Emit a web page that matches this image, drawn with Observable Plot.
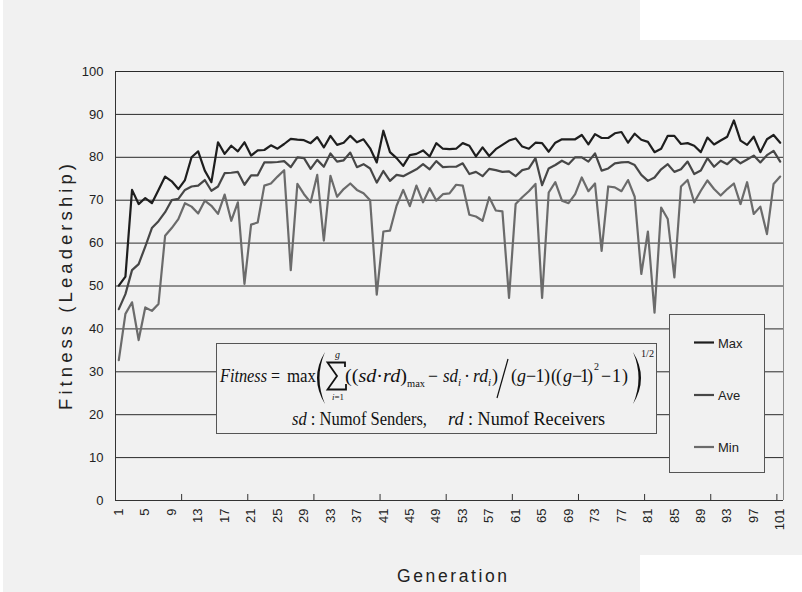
<!DOCTYPE html>
<html>
<head>
<meta charset="utf-8">
<script src="https://cdn.jsdelivr.net/npm/d3@7"></script>
<script src="https://cdn.jsdelivr.net/npm/@observablehq/plot@0.6"></script>
<style>
  html, body { margin: 0; padding: 0; background: #ffffff; }
  #wrap { position: relative; width: 802px; height: 592px; overflow: hidden; }
  #wrap > svg { position: absolute; left: 0; top: 0; }
</style>
</head>
<body>
<div id="wrap"></div>
<script>
// ---------------- data ----------------
const generations = d3.range(1, 102);
const seriesNames = ["Max", "Ave", "Min"];
const seriesColors = ["#1e1e1e", "#474747", "#6b6b6b"];

const maxValues = [
  50.1, 52.2, 72.4, 69.1, 70.5, 69.3, 72.4, 75.5, 74.4, 72.6,
  74.7, 80.0, 81.4, 76.9, 74.2, 83.5, 80.8, 82.7, 81.4, 83.5,
  80.4, 81.6, 81.7, 82.8, 82.0, 83.1, 84.3, 84.1, 84.0, 83.3,
  84.7, 82.3, 85.0, 82.9, 83.4, 85.0, 83.5, 84.2, 82.1, 78.8,
  86.2, 81.2, 79.8, 78.0, 80.5, 80.8, 81.6, 80.2, 83.3, 82.0,
  81.9, 82.0, 83.3, 82.7, 80.2, 82.3, 80.3, 81.9, 82.9, 83.9,
  84.4, 82.5, 82.0, 83.4, 83.3, 81.3, 83.4, 84.2, 84.2, 84.2,
  85.2, 83.0, 85.4, 84.5, 84.5, 85.6, 85.9, 83.4, 85.5, 84.1,
  83.6, 81.2, 82.0, 85.0, 85.0, 83.1, 83.3, 82.7, 81.2, 84.6,
  83.0, 83.9, 84.8, 88.6, 83.9, 82.9, 84.8, 81.2, 84.2, 85.2,
  83.4
];
const aveValues = [
  44.6, 48.1, 53.7, 55.1, 59.2, 63.5, 65.1, 67.2, 70.0, 70.3,
  72.4, 73.2, 73.4, 74.7, 72.2, 73.2, 76.3, 76.4, 76.6, 73.6,
  75.8, 75.8, 78.8, 78.8, 78.9, 79.1, 77.7, 80.0, 79.8, 77.3,
  79.4, 77.8, 80.9, 79.0, 79.3, 81.1, 77.7, 78.4, 77.4, 74.1,
  76.8, 74.5, 75.9, 75.6, 76.4, 77.2, 78.4, 77.2, 79.1, 77.7,
  77.8, 77.8, 78.6, 76.1, 76.6, 75.6, 77.3, 77.0, 76.6, 76.7,
  75.6, 77.0, 77.4, 79.8, 73.5, 77.4, 78.2, 79.2, 78.4, 80.0,
  80.0, 79.0, 80.9, 76.9, 77.4, 78.6, 78.8, 78.9, 78.2, 75.9,
  74.5, 75.3, 77.2, 78.4, 76.6, 77.2, 79.0, 76.1, 76.9, 79.8,
  77.8, 79.2, 78.4, 79.8, 78.6, 79.5, 80.4, 78.8, 80.5, 81.5,
  79.0
];
const minValues = [
  32.7, 43.5, 46.2, 37.4, 45.0, 44.2, 45.8, 61.7, 63.5, 65.6,
  69.3, 68.5, 66.9, 69.9, 68.7, 66.8, 71.3, 65.2, 69.5, 50.5,
  64.3, 64.8, 73.4, 73.9, 75.5, 77.0, 53.7, 73.8, 71.4, 69.5,
  75.9, 60.6, 75.7, 70.8, 72.6, 73.9, 72.4, 71.6, 70.0, 48.0,
  62.7, 62.9, 68.7, 72.4, 68.6, 73.4, 69.5, 72.8, 69.9, 71.4,
  71.6, 73.6, 73.4, 66.6, 66.2, 65.2, 70.7, 67.6, 67.4, 47.2,
  69.1, 70.7, 72.1, 73.8, 47.2, 71.8, 74.2, 69.9, 69.3, 71.4,
  75.3, 72.1, 73.9, 58.2, 73.2, 73.0, 72.1, 74.7, 70.8, 52.8,
  62.7, 43.8, 68.3, 65.6, 52.0, 73.2, 74.7, 69.5, 72.2, 74.6,
  72.6, 71.1, 72.6, 73.9, 69.1, 74.2, 66.8, 68.5, 62.1, 73.8,
  75.5
];

const yTicks = [0, 10, 20, 30, 40, 50, 60, 70, 80, 90, 100];
const xTickLabels = d3.range(1, 102, 4);          // 1, 5, 9, ... 101
const xTickMarkEvery = 10;                          // tick marks between categories

const yTitle = "Fitness (Leadership)";
const xTitle = "Generation";

// ---------------- table ----------------
const valuesBySeries = {Max: maxValues, Ave: aveValues, Min: minValues};
const table = [];
for (const s of ["Min", "Ave", "Max"]) {
  valuesBySeries[s].forEach((v, i) => table.push({series: s, gen: generations[i], value: v}));
}
const tickMarkPositions = d3.range(xTickMarkEvery, generations.length, xTickMarkEvery).map(g => g + 0.5);

const FONT = "'Liberation Sans', Arial, Helvetica, sans-serif";
const BG = "#f1f1f1";

// ---------------- background ----------------
const wrap = document.getElementById("wrap");
const bg = d3.create("svg").attr("width", 802).attr("height", 592);
bg.append("rect").attr("x", 3).attr("y", 0).attr("width", 799).attr("height", 592).attr("fill", BG);
bg.append("rect").attr("x", 640).attr("y", 0).attr("width", 162).attr("height", 40).attr("fill", "#fff");
bg.append("rect").attr("x", 640).attr("y", 555).attr("width", 162).attr("height", 37).attr("fill", "#fff");
wrap.appendChild(bg.node());

// ---------------- chart ----------------
const chart = Plot.plot({
  width: 802,
  height: 592,
  marginLeft: 115,
  marginRight: 19,
  marginTop: 71,
  marginBottom: 92,
  style: {background: "transparent", fontFamily: FONT, fontSize: "13px", color: "#222"},
  x: {domain: [0.5, generations.length + 0.5]},
  y: {domain: [0, 100]},
  color: {domain: seriesNames, range: seriesColors},
  marks: [
    Plot.ruleY(yTicks.filter(d => d > 0), {stroke: "#2a2a2a", strokeWidth: 1}),
    Plot.ruleX([generations.length + 0.5], {stroke: "#8a8a8a", strokeWidth: 1}),
    Plot.ruleX([0.5], {stroke: "#333", strokeWidth: 1}),
    Plot.ruleY([0], {stroke: "#333", strokeWidth: 1}),
    Plot.ruleX(tickMarkPositions, {y1: 0, y2: 1.4, stroke: "#333", strokeWidth: 1}),
    Plot.line(table, {x: "gen", y: "value", z: "series", stroke: "series", strokeWidth: 2.2}),
    Plot.axisY({ticks: yTicks, tickSize: 0, tickPadding: 12, label: null, fontSize: 13}),
    Plot.axisX({ticks: xTickLabels, tickRotate: -90, tickSize: 0, tickPadding: 8, label: null, fontSize: 13, tickFormat: d => String(d)})
  ]
});
wrap.appendChild(chart);

// ---------------- overlay: titles, formula, legend ----------------
const ov = d3.create("svg").attr("width", 802).attr("height", 592);

ov.append("text")
  .attr("transform", "translate(72,287) rotate(-90)")
  .attr("text-anchor", "middle")
  .attr("font-family", FONT).attr("font-size", 18.5).attr("fill", "#222")
  .attr("textLength", 246).attr("lengthAdjust", "spacing")
  .text(yTitle);

ov.append("text")
  .attr("x", 452).attr("y", 582)
  .attr("text-anchor", "middle")
  .attr("font-family", FONT).attr("font-size", 17.5).attr("fill", "#222")
  .attr("textLength", 110).attr("lengthAdjust", "spacing")
  .text(xTitle);

// formula box
const SERIF = "'Liberation Serif', 'Times New Roman', serif";
const f = ov.append("g").attr("font-family", SERIF).attr("fill", "#111");
f.append("rect").attr("x", 216.5).attr("y", 343.5).attr("width", 440).attr("height", 90)
  .attr("fill", BG).attr("stroke", "#555").attr("stroke-width", 1);

function t(x, y, size, content, opts = {}) {
  const el = f.append("text").attr("x", x).attr("y", y).attr("font-size", size);
  if (opts.italic) el.attr("font-style", "italic");
  if (opts.len) el.attr("textLength", opts.len).attr("lengthAdjust", opts.adjust || "spacingAndGlyphs");
  if (opts.html) el.html(content); else el.text(content);
  return el;
}
t(220, 382, 18, "Fitness", {italic: true, len: 47});
t(271, 382, 18, "=", {len: 9});
t(287, 382, 18, "max", {len: 29});
// big left parenthesis
f.append("path").attr("d", "M325,352 Q309,378 325,404 Q314,378 325,352Z");
// summation sign drawn as a path
f.append("path")
  .attr("d", "M345,367 L345,362.5 L327.5,362.5 L337,376 L327.5,389.5 L346,389.5 L346,384")
  .attr("fill", "none").attr("stroke", "#111").attr("stroke-width", 1.8).attr("stroke-linejoin", "miter");
t(335, 358, 10, "g", {italic: true});
t(332, 400, 9, "<tspan font-style='italic'>i</tspan>=1", {html: true, len: 12});
t(345, 382, 18, "((<tspan font-style='italic'>sd</tspan>·<tspan font-style='italic'>rd</tspan>)", {html: true, len: 62});
t(407, 387, 11, "max", {len: 18});
t(428, 382, 18, "−", {len: 10});
t(443, 382, 18, "sd", {italic: true, len: 15});
t(458, 386, 11, "i", {italic: true});
t(464, 382, 18, "·");
t(473, 382, 18, "rd", {italic: true, len: 15});
t(488, 386, 11, "i", {italic: true});
t(492, 382, 18, ")");
f.append("line").attr("x1", 508).attr("y1", 359).attr("x2", 497).attr("y2", 398)
  .attr("stroke", "#111").attr("stroke-width", 1.2);
t(511, 382, 18, "(");
t(517, 382, 18, "g", {italic: true});
t(526, 382, 18, "−1)", {len: 24, adjust: "spacing"});
t(551, 382, 18, "((", {len: 11, adjust: "spacing"});
t(563, 382, 18, "g", {italic: true});
t(572, 382, 18, "−1)", {len: 21, adjust: "spacing"});
t(594, 370, 10, "2");
t(601, 382, 18, "−1)", {len: 27, adjust: "spacing"});
// big right parenthesis
f.append("path").attr("d", "M633,352 Q649,378 633,404 Q644,378 633,352Z");
t(641, 357, 10, "1/2", {len: 13});
t(292, 425, 18, "<tspan font-style='italic'>sd</tspan> : Numof Senders,", {html: true, len: 135});
t(448, 425, 18, "<tspan font-style='italic'>rd</tspan> : Numof Receivers", {html: true, len: 157});

// legend box
const lg = ov.append("g");
lg.append("rect").attr("x", 669.5).attr("y", 314.5).attr("width", 95).attr("height", 158)
  .attr("fill", BG).attr("stroke", "#555").attr("stroke-width", 1);
const legendY = [342.5, 395, 447];
seriesNames.forEach((name, i) => {
  lg.append("line").attr("x1", 694).attr("x2", 714).attr("y1", legendY[i]).attr("y2", legendY[i])
    .attr("stroke", seriesColors[i]).attr("stroke-width", 2.2);
  lg.append("text").attr("x", 718).attr("y", legendY[i] + 5)
    .attr("font-family", FONT).attr("font-size", 13).attr("fill", "#222")
    .text(name);
});
wrap.appendChild(ov.node());
</script>
</body>
</html>
